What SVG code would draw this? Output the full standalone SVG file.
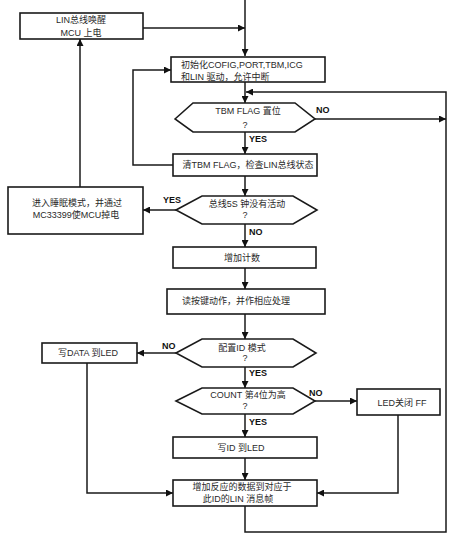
<svg xmlns="http://www.w3.org/2000/svg" width="453" height="547" viewBox="0 0 453 547">
<defs>
<marker id="ah" viewBox="0 0 10 10" refX="10" refY="5" markerWidth="7" markerHeight="7" markerUnits="userSpaceOnUse" orient="auto">
<path d="M0,0 L10,5 L0,10 z" fill="#111"/>
</marker>
<style>
.box{fill:#fff;stroke:#1a1a1a;stroke-width:1.6}
.t{font-family:"Liberation Sans","Noto Sans CJK SC",sans-serif;font-size:9px;fill:#2a2a2a;text-anchor:middle;dominant-baseline:central}
.tl{text-anchor:start}
.lab{font-family:"Liberation Sans","Noto Sans CJK SC",sans-serif;font-size:9px;font-weight:bold;fill:#111;dominant-baseline:central}
.c{fill:none;stroke:#1a1a1a;stroke-width:1.5}
.ca{fill:none;stroke:#1a1a1a;stroke-width:1.5;marker-end:url(#ah)}
</style>
</defs>
<rect width="453" height="547" fill="#fff"/>
<g id="connectors">
<path class="ca" d="M245,0 L245,56"/>
<path class="ca" d="M143,28 L245,28"/>
<path class="ca" d="M245,82 L245,103"/>
<path class="ca" d="M245,506 L245,532 L446,532 L446,92 L246,92"/>
<path class="ca" d="M315,119 L446,119"/>
<path class="ca" d="M245,132 L245,154"/>
<path class="ca" d="M173,165 L133,165 L133,70 L171,70"/>
<path class="ca" d="M245,176 L245,196"/>
<path class="ca" d="M176,210 L143,210"/>
<path class="ca" d="M80,187 L80,39"/>
<path class="ca" d="M245,224 L245,247"/>
<path class="ca" d="M245,268 L245,289"/>
<path class="ca" d="M245,314 L245,339"/>
<path class="ca" d="M176,353 L137,353"/>
<path class="ca" d="M245,367 L245,388"/>
<path class="ca" d="M315,401 L357,401"/>
<path class="ca" d="M245,414 L245,437"/>
<path class="ca" d="M245,458 L245,480"/>
<path class="ca" d="M87,363 L87,493 L173,493"/>
<path class="ca" d="M398,415 L398,493 L317,493"/>
<text class="lab" x="316" y="110">NO</text>
<text class="lab" x="249" y="139">YES</text>
<text class="lab" x="163" y="200">YES</text>
<text class="lab" x="249" y="232">NO</text>
<text class="lab" x="162" y="346">NO</text>
<text class="lab" x="249" y="373">YES</text>
<text class="lab" x="309" y="393">NO</text>
<text class="lab" x="249" y="422">YES</text>
</g>
<g id="n_lin">
<rect class="box" x="20" y="13" width="123" height="26"/>
<text class="t" x="81" y="19.5">LIN总线唤醒</text>
<text class="t" x="81" y="33">MCU 上电</text>
</g>
<g id="n_init">
<rect class="box" x="171" y="57" width="154" height="25"/>
<text class="t tl" x="181" y="64.5">初始化COFIG,PORT,TBM,ICG</text>
<text class="t tl" x="181" y="76.5">和LIN 驱动，允许中断</text>
</g>
<g id="n_tbm">
<polygon class="box" points="175,119 193,103 295,103 315,119 295,132 193,132"/>
<text class="t" x="248" y="111">TBM FLAG 置位</text>
<text class="t" x="245" y="125">?</text>
</g>
<g id="n_clear">
<rect class="box" x="173" y="154" width="144" height="22"/>
<text class="t" x="248" y="165">清TBM FLAG，检查LIN总线状态</text>
</g>
<g id="n_sleep">
<rect class="box" x="8" y="187" width="135" height="47"/>
<text class="t" x="77" y="203">进入睡眠模式，并通过</text>
<text class="t" x="76" y="215">MC33399使MCU掉电</text>
</g>
<g id="n_5s">
<polygon class="box" points="176,210 202,196 293,196 317,210 293,224 202,224"/>
<text class="t" x="247" y="204">总线5S 钟没有活动</text>
<text class="t" x="245" y="215">?</text>
</g>
<g id="n_count">
<rect class="box" x="173" y="247" width="143" height="21"/>
<text class="t" x="242" y="257.5">增加计数</text>
</g>
<g id="n_key">
<rect class="box" x="167" y="289" width="158" height="25"/>
<text class="t" x="236" y="301">读按键动作，并作相应处理</text>
</g>
<g id="n_cfg">
<polygon class="box" points="176,353 202,339 293,339 316,353 293,367 202,367"/>
<text class="t" x="242" y="348">配置ID 模式</text>
<text class="t" x="245" y="358">?</text>
</g>
<g id="n_data">
<rect class="box" x="42" y="343" width="95" height="20"/>
<text class="t" x="88" y="353">写DATA 到LED</text>
</g>
<g id="n_bit4">
<polygon class="box" points="176,401 202,388 293,388 315,401 293,414 202,414"/>
<text class="t" x="248" y="395">COUNT 第4位为高</text>
<text class="t" x="245" y="406">?</text>
</g>
<g id="n_ledoff">
<rect class="box" x="357" y="389" width="83" height="26"/>
<text class="t" x="402" y="403">LED关闭 FF</text>
</g>
<g id="n_id">
<rect class="box" x="173" y="437" width="144" height="21"/>
<text class="t" x="241" y="448">写ID 到LED</text>
</g>
<g id="n_msg">
<rect class="box" x="173" y="480" width="144" height="26"/>
<text class="t" x="242" y="487">增加反应的数据到对应于</text>
<text class="t" x="238" y="499">此ID的LIN 消息帧</text>
</g>
</svg>
